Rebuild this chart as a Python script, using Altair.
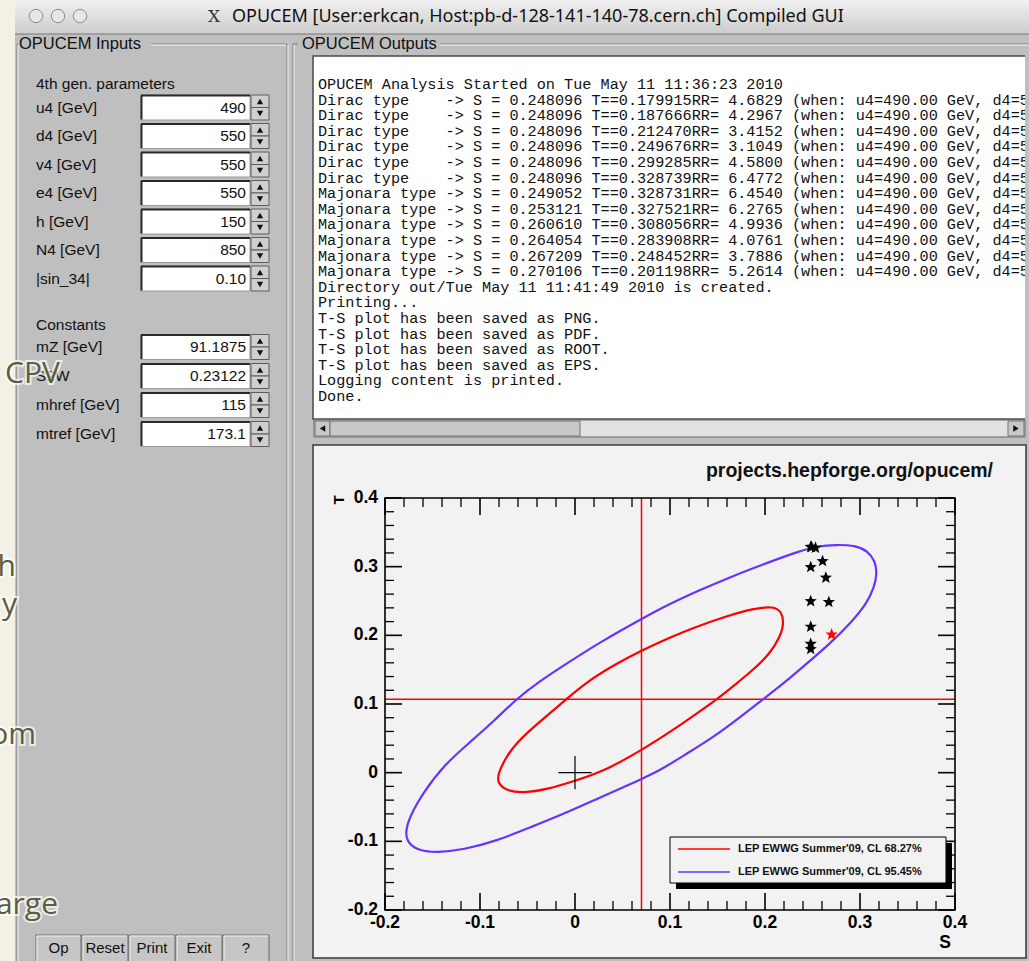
import altair as alt
import pandas as pd

W, H = 1029, 961

# ------------------------------------------------------------------ data
title_text = "OPUCEM [User:erkcan, Host:pb-d-128-141-140-78.cern.ch] Compiled GUI"
inputs_title = "OPUCEM Inputs"
outputs_title = "OPUCEM Outputs"
param_header = "4th gen. parameters"
param_labels = ["u4 [GeV]", "d4 [GeV]", "v4 [GeV]", "e4 [GeV]", "h [GeV]", "N4 [GeV]", "|sin_34|"]
param_values = ["490", "550", "550", "550", "150", "850", "0.10"]
const_header = "Constants"
const_labels = ["mZ [GeV]", "S2W", "mhref [GeV]", "mtref [GeV]"]
const_values = ["91.1875", "0.23122", "115", "173.1"]
button_labels = ["Op", "Reset", "Print", "Exit", "?"]

log_header = "OPUCEM Analysis Started on Tue May 11 11:36:23 2010"
dirac_S = [0.248096, 0.248096, 0.248096, 0.248096, 0.248096, 0.248096]
dirac_T = [0.179915, 0.187666, 0.212470, 0.249676, 0.299285, 0.328739]
dirac_RR = ["4.6829", "4.2967", "3.4152", "3.1049", "4.5800", "6.4772"]
majorana_S = [0.249052, 0.253121, 0.260610, 0.264054, 0.267209, 0.270106]
majorana_T = [0.328731, 0.327521, 0.308056, 0.283908, 0.248452, 0.201198]
majorana_RR = ["6.4540", "6.2765", "4.9936", "4.0761", "3.7886", "5.2614"]
log_tail = [
    "Directory out/Tue May 11 11:41:49 2010 is created.",
    "Printing...",
    "T-S plot has been saved as PNG.",
    "T-S plot has been saved as PDF.",
    "T-S plot has been saved as ROOT.",
    "T-S plot has been saved as EPS.",
    "Logging content is printed.",
    "Done.",
]

slide_words = ["CPV", "h", "y", "om", "arge"]

series_names = ["LEP EWWG Summer'09, CL 68.27%", "LEP EWWG Summer'09, CL 95.45%"]
series_colors = ["#ff0000", "#6633ff"]

# contour points (closed loops, first point not repeated)
cl68_S = [0.1877, 0.2087, 0.2175, 0.2200, 0.2158, 0.2053, 0.1877, 0.1667, 0.1510, 0.1316,
          0.1105, 0.0895, 0.0700, 0.0334, 0.0000, -0.0298, -0.0544, -0.0719, -0.0807, -0.0818,
          -0.0737, -0.0614, -0.0368, -0.0088, 0.0123, 0.0400, 0.0700, 0.1000, 0.1245, 0.1597]
cl68_T = [0.2390, 0.2423, 0.2350, 0.2170, 0.1975, 0.1733, 0.1500, 0.1260, 0.1085, 0.0895,
          0.0690, 0.0500, 0.0330, 0.0040, -0.0120, -0.0245, -0.0296, -0.0265, -0.0164, -0.0042,
          0.0202, 0.0445, 0.0745, 0.1075, 0.1320, 0.1560, 0.1780, 0.1970, 0.2110, 0.2280]

cl95_S = [0.255, 0.275, 0.295, 0.308, 0.316, 0.318, 0.315, 0.307, 0.2895, 0.2684,
          0.2439, 0.2193, 0.198, 0.1737, 0.1456, 0.1176, 0.0895, 0.0702, 0.0228, -0.0123,
          -0.0474, -0.0824, -0.1176, -0.1456, -0.1632, -0.1755, -0.179, -0.1737, -0.1596, -0.1386,
          -0.1105, -0.085, -0.062, -0.037, -0.0087, 0.0263, 0.070, 0.100, 0.130, 0.160,
          0.205, 0.235]
cl95_T = [0.330, 0.332, 0.331, 0.323, 0.308, 0.290, 0.270, 0.246, 0.217, 0.188,
          0.1587, 0.1295, 0.107, 0.0808, 0.0516, 0.0277, 0.0034, -0.0092, -0.0384, -0.0603,
          -0.0798, -0.0993, -0.1124, -0.1163, -0.1139, -0.104, -0.0872, -0.0628, -0.0288, 0.0102,
          0.0445, 0.0755, 0.107, 0.1335, 0.159, 0.190, 0.224, 0.246, 0.265, 0.283,
          0.307, 0.322]

best_S, best_T = 0.070, 0.107        # LEP central values (red cross-hair lines)
sm_S, sm_T = 0.0, 0.0                # reference point marker

S_major = [-0.2, -0.1, 0.0, 0.1, 0.2, 0.3, 0.4]
S_labels = ["-0.2", "-0.1", "0", "0.1", "0.2", "0.3", "0.4"]
T_major = [-0.2, -0.1, 0.0, 0.1, 0.2, 0.3, 0.4]
T_labels = ["-0.2", "-0.1", "0", "0.1", "0.2", "0.3", "0.4"]
minor_step = 0.02

# ------------------------------------------------------------------ helpers
XS = alt.Scale(domain=[0, W], range=[0, W], nice=False, zero=False)
YS = alt.Scale(domain=[0, H], range=[0, H], nice=False, zero=False)
SX = alt.Scale(domain=[-0.2, 0.4], range=[385, 955], nice=False, zero=False)
TY = alt.Scale(domain=[-0.2, 0.4], range=[910, 498], nice=False, zero=False)

GUI_FONT = "Liberation Sans"


def gx(f="x"):
    return alt.X(f"{f}:Q", scale=XS, axis=None)


def gy(f="y"):
    return alt.Y(f"{f}:Q", scale=YS, axis=None)


def rects(rows, **mk):
    df = pd.DataFrame(rows, columns=["x", "x2", "y", "y2"])
    return alt.Chart(df).mark_rect(**mk).encode(x=gx("x"), x2="x2:Q", y=gy("y"), y2="y2:Q")


def rules(rows, color, width=1.0):
    df = pd.DataFrame(rows, columns=["x", "x2", "y", "y2"])
    return alt.Chart(df).mark_rule(color=color, strokeWidth=width).encode(
        x=gx("x"), x2="x2:Q", y=gy("y"), y2="y2:Q")


def texts(rows, **mk):
    df = pd.DataFrame(rows, columns=["x", "y", "text"])
    return alt.Chart(df).mark_text(**mk).encode(x=gx("x"), y=gy("y"), text="text:N")


def pts(rows, **mk):
    df = pd.DataFrame(rows, columns=["x", "y"])
    return alt.Chart(df).mark_point(**mk).encode(x=gx("x"), y=gy("y"))


def sx(f="S"):
    return alt.X(f"{f}:Q", scale=SX, axis=None)


def ty(f="T"):
    return alt.Y(f"{f}:Q", scale=TY, axis=None)


# ------------------------------------------------------------------ GUI (back)
back = []
back.append(rects([(15, W, 0, H)], fill="#bfbfbf"))
back.append(rects([(15, W, 0, 34)], color=alt.Gradient(
    gradient="linear", x1=0, x2=0, y1=0, y2=1,
    stops=[alt.GradientStop(color="#f0f0f0", offset=0), alt.GradientStop(color="#cccccc", offset=1)])))
back.append(rules([(15, W, 34, 34)], "#7a7a7a", 1))
back.append(pts([(36, 16), (58, 16), (80, 16)], shape="circle", size=180, filled=True,
                fill="#e6e6e6", stroke="#8a8a8a", strokeWidth=1, opacity=1))
back.append(texts([(214, 17, "X")], font="DejaVu Serif", fontSize=17, color="#333333"))
back.append(texts([(232, 17, title_text)], align="left", font="Noto Sans", fontSize=18,
                  color="#111111"))

# group frames (etched)
dark = [(17, 17, 44, H), (287, 287, 44, H), (151, 287, 44, 44), (17, 18, 44, 44),
        (293, 293, 44, H), (440, W, 44, 44), (293, 298, 44, 44)]
light = [(18, 18, 45, H), (288, 288, 45, H), (151, 286, 45, 45),
         (294, 294, 45, H), (440, W, 45, 45)]
back.append(rules(dark, "#7c7c7c", 1))
back.append(rules(light, "#f4f4f4", 1))
back.append(texts([(19, 44, inputs_title), (302, 44, outputs_title)], align="left",
                  font=GUI_FONT, fontSize=16.5, color="#111111"))

# input rows
row_y = [107.5 + 28.5 * i for i in range(len(param_labels))]
const_y = [347.0 + 29.0 * i for i in range(len(const_labels))]
all_y = row_y + const_y
back.append(texts([(36, 84, param_header), (36, 325, const_header)], align="left",
                  font=GUI_FONT, fontSize=15.5, color="#111111"))
back.append(texts([(36, y, t) for y, t in zip(all_y, param_labels + const_labels)], align="left",
                  font=GUI_FONT, fontSize=15.5, color="#111111"))
back.append(rects([(141, 250, y - 12.5, y + 12.5) for y in all_y], fill="#ffffff",
                  stroke="#9a9a9a", strokeWidth=1))
back.append(rules([(141, 250, y - 12, y - 12) for y in all_y] + [(141.5, 141.5, y - 12, y + 12) for y in all_y],
                  "#2a2a2a", 2))
back.append(texts([(246, y, v) for y, v in zip(all_y, param_values + const_values)], align="right",
                  font=GUI_FONT, fontSize=15.5, color="#111111"))
back.append(rects([(251, 269, y - 12.5, y) for y in all_y] + [(251, 269, y, y + 12.5) for y in all_y],
                  fill="#cfcfcf", stroke="#5c5c5c", strokeWidth=1))
back.append(pts([(260, y - 6) for y in all_y], shape="triangle-up", size=40, filled=True,
                color="#111111", opacity=1))
back.append(pts([(260, y + 6) for y in all_y], shape="triangle-down", size=40, filled=True,
                color="#111111", opacity=1))

# bottom buttons
btn_x = [(36, 81), (82, 128), (129, 175), (176, 222), (223, 269)]
back.append(rects([(a, b, 935, 964) for a, b in btn_x], fill="#c6c6c6", stroke="#6a6a6a", strokeWidth=1))
back.append(rules([(a + 1, b - 1, 936, 936) for a, b in btn_x] + [(a + 1, a + 1, 936, 961) for a, b in btn_x],
                  "#f2f2f2", 1))
back.append(texts([((a + b) / 2, 948, t) for (a, b), t in zip(btn_x, button_labels)],
                  font=GUI_FONT, fontSize=15, color="#111111"))

# output text box
back.append(rects([(313, 1026, 56, 419)], fill="#ffffff", stroke="#4a4a4a", strokeWidth=1.5))
log_lines = [log_header]
for s, t, rr in zip(dirac_S, dirac_T, dirac_RR):
    log_lines.append(f"{'Dirac type':<14}-> S = {s:.6f} T=={t:.6f}RR= {rr} (when: u4={float(param_values[0]):.2f} GeV, d4=5")
for s, t, rr in zip(majorana_S, majorana_T, majorana_RR):
    log_lines.append(f"{'Majonara type':<14}-> S = {s:.6f} T=={t:.6f}RR= {rr} (when: u4={float(param_values[0]):.2f} GeV, d4=5")
log_lines += log_tail
back.append(texts([(318, 84 + 15.6 * i, ln.replace(" ", "\u00a0")) for i, ln in enumerate(log_lines)],
                  align="left", font="Liberation Mono", fontSize=15.2, color="#111111"))
back.append(rects([(1025, W, 50, 440)], fill="#bfbfbf"))

# scrollbar
back.append(rects([(314, 1025, 420, 437)], fill="#e2e2e2", stroke="#6a6a6a", strokeWidth=1))
back.append(rects([(315, 330, 421, 436), (330, 580, 421, 436), (1008, 1024, 421, 436)],
                  fill="#c8c8c8", stroke="#707070", strokeWidth=1))
back.append(pts([(322.5, 428.5)], shape="triangle-left", size=40, filled=True, color="#111111", opacity=1))
back.append(pts([(1016, 428.5)], shape="triangle-right", size=40, filled=True, color="#111111", opacity=1))

# ROOT canvas
back.append(rects([(313, 1026, 445, 958)], fill="#f2f2f2", stroke="#3a3a3a", strokeWidth=1.5))
back.append(texts([(993, 471, "projects.hepforge.org/opucem/")], align="right", font=GUI_FONT,
                  fontSize=19.5, fontWeight="bold", color="#111111"))

# ------------------------------------------------------------------ T-S plot
ts = []
frame_df = pd.DataFrame({"S": [S_major[0]], "S2": [S_major[-1]], "T": [T_major[0]], "T2": [T_major[-1]]})
ts.append(alt.Chart(frame_df).mark_rect(fill="#f2f2f2").encode(x=sx("S"), x2="S2:Q", y=ty("T"), y2="T2:Q"))

lines_df = pd.DataFrame({
    "S": [best_S, S_major[0]], "S2": [best_S, S_major[-1]],
    "T": [T_major[0], best_T], "T2": [T_major[-1], best_T]})
ts.append(alt.Chart(lines_df).mark_rule(color="#ff0000", strokeWidth=1.5).encode(
    x=sx("S"), x2="S2:Q", y=ty("T"), y2="T2:Q"))

ell = []
for name, Ss, Ts in [(series_names[0], cl68_S, cl68_T), (series_names[1], cl95_S, cl95_T)]:
    for i, (s, t) in enumerate(zip(Ss, Ts)):
        ell.append({"series": name, "i": i, "S": s, "T": t})
ell_df = pd.DataFrame(ell)
ts.append(alt.Chart(ell_df).mark_line(strokeWidth=2.2, interpolate="basis-closed").encode(
    x=sx(), y=ty(), order="i:Q", detail="series:N",
    color=alt.Color("series:N", scale=alt.Scale(domain=series_names, range=series_colors), legend=None)))

# tick marks (inside, all four sides)
minor_S = [round(S_major[0] + minor_step * k, 2) for k in range(31)]
minor_S = [v for v in minor_S if all(abs(v - m) > 1e-9 for m in S_major)]
minor_T = [round(T_major[0] + minor_step * k, 2) for k in range(31)]
minor_T = [v for v in minor_T if all(abs(v - m) > 1e-9 for m in T_major)]
for vals, ln, w in [(S_major, 17, 1.6), (minor_S, 9, 1.3)]:
    d = pd.DataFrame({"S": vals, "B": [T_major[0]] * len(vals), "Tp": [T_major[-1]] * len(vals)})
    ts.append(alt.Chart(d).mark_rule(color="#000000", strokeWidth=w, y2Offset=-ln).encode(
        x=sx("S"), y=ty("B"), y2="B:Q"))
    ts.append(alt.Chart(d).mark_rule(color="#000000", strokeWidth=w, y2Offset=ln).encode(
        x=sx("S"), y=ty("Tp"), y2="Tp:Q"))
for vals, ln, w in [(T_major, 17, 1.6), (minor_T, 9, 1.3)]:
    d = pd.DataFrame({"T": vals, "L": [S_major[0]] * len(vals), "R": [S_major[-1]] * len(vals)})
    ts.append(alt.Chart(d).mark_rule(color="#000000", strokeWidth=w, x2Offset=ln).encode(
        y=ty("T"), x=sx("L"), x2="L:Q"))
    ts.append(alt.Chart(d).mark_rule(color="#000000", strokeWidth=w, x2Offset=-ln).encode(
        y=ty("T"), x=sx("R"), x2="R:Q"))

ts.append(alt.Chart(frame_df).mark_rect(fillOpacity=0, stroke="#000000", strokeWidth=1.6).encode(
    x=sx("S"), x2="S2:Q", y=ty("T"), y2="T2:Q"))

# points
pt_rows = []
all_S = dirac_S + majorana_S
all_T = dirac_T + majorana_T
for k, (s, t) in enumerate(zip(all_S, all_T)):
    pt_rows.append({"S": s, "T": t, "c": "#ff0000" if k == len(all_S) - 1 else "#000000"})
STAR = "M0,-1L0.26,-0.33L0.95,-0.31L0.41,0.13L0.59,0.81L0,0.42L-0.59,0.81L-0.41,0.13L-0.95,-0.31L-0.26,-0.33Z"
ts.append(alt.Chart(pd.DataFrame(pt_rows)).mark_point(shape=STAR, filled=True, size=165, opacity=1).encode(
    x=sx(), y=ty(), color=alt.Color("c:N", scale=None)))

ts.append(alt.Chart(pd.DataFrame({"S": [sm_S], "T": [sm_T]})).mark_point(
    shape="M-1,0L1,0M0,-1L0,1", filled=False, size=1100, color="#000000", strokeWidth=1.2, opacity=1).encode(
    x=sx(), y=ty()))

# tick labels and titles
ts.append(alt.Chart(pd.DataFrame({"S": S_major, "T": [T_major[0]] * 7, "lab": S_labels})).mark_text(
    dy=13, font=GUI_FONT, fontSize=17.5, fontWeight="bold", color="#000000").encode(
    x=sx(), y=ty(), text="lab:N"))
ts.append(alt.Chart(pd.DataFrame({"S": [S_major[0]] * 7, "T": T_major, "lab": T_labels})).mark_text(
    dx=-7, align="right", font=GUI_FONT, fontSize=17.5, fontWeight="bold", color="#000000").encode(
    x=sx(), y=ty(), text="lab:N"))
ts.append(alt.Chart(pd.DataFrame({"S": [S_major[-1]], "T": [T_major[0]], "lab": ["S"]})).mark_text(
    dx=-10, dy=33, font=GUI_FONT, fontSize=17.5, fontWeight="bold", color="#000000").encode(
    x=sx(), y=ty(), text="lab:N"))
# rotated title: with angle 270, dy moves horizontally and dx vertically
ts.append(alt.Chart(pd.DataFrame({"S": [S_major[0]], "T": [T_major[-1]], "lab": ["T"]})).mark_text(
    dx=-2, dy=-46, angle=270, font=GUI_FONT, fontSize=15, fontWeight="bold", color="#000000").encode(
    x=sx(), y=ty(), text="lab:N"))

# ------------------------------------------------------------------ GUI (front)
front = []
# legend
front.append(rects([(676, 952, 843, 889)], fill="#000000"))
front.append(rects([(670, 946, 837, 883)], fill="#f2f2f2", stroke="#000000", strokeWidth=1))
leg_y = [849, 872]
leg_df = pd.DataFrame({"x": [678] * 2, "x2": [730] * 2, "y": leg_y, "name": series_names})
front.append(alt.Chart(leg_df).mark_rule(strokeWidth=1.6).encode(
    x=gx("x"), x2="x2:Q", y=gy("y"),
    color=alt.Color("name:N", scale=alt.Scale(domain=series_names, range=series_colors), legend=None)))
front.append(texts([(738, y, n) for y, n in zip(leg_y, series_names)], align="left", font=GUI_FONT,
                   fontSize=11, fontWeight="bold", color="#111111"))

# slide text peeking through at the left edge
slide_pos = [(5, 374, "left"), (16, 567, "right"), (17, 605, "right"), (36, 735, "right"), (58, 905, "right")]
for (x, y, al), wtxt in zip(slide_pos, slide_words):
    front.append(texts([(x, y, wtxt)], align=al, font="Open Sans", fontSize=30, color="#ffffff",
                       stroke="#ffffff", strokeWidth=4, opacity=0.7))
    front.append(texts([(x, y, wtxt)], align=al, font="Open Sans", fontSize=30, color="#5e5c3e"))

chart = alt.layer(
    alt.layer(*back), alt.layer(*ts), alt.layer(*front)
).resolve_scale(x="independent", y="independent").properties(
    width=W, height=H, padding=0, autosize=alt.AutoSizeParams(type="none"),
    background="#f3f1e6"
).configure_view(stroke=None)

chart.save("out.html", embed_options={"renderer": "svg", "actions": False})
